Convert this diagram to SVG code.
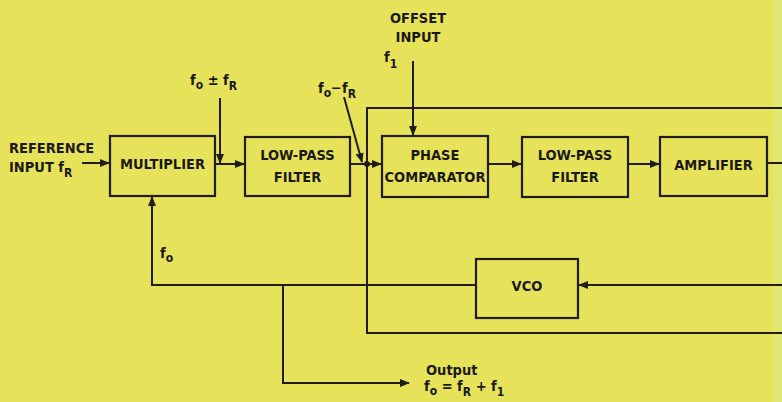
<svg xmlns="http://www.w3.org/2000/svg" width="782" height="402" viewBox="0 0 782 402">
<defs>
<style>
.box{fill:none;stroke:#221d14;stroke-width:2.2}
.ln{fill:none;stroke:#221d14;stroke-width:2}
.t{font-family:'Liberation Sans Narrow','DejaVu Sans Condensed','Liberation Sans',sans-serif;font-weight:bold;font-size:14.5px;fill:#1c1810;text-anchor:middle}
.l{font-family:'Liberation Sans Narrow','DejaVu Sans Condensed','Liberation Sans',sans-serif;font-weight:bold;font-size:14.5px;fill:#1c1810}
.s{font-size:12px}
</style>
<marker id="ah" viewBox="0 0 10 8" refX="9" refY="4" markerWidth="10" markerHeight="8" markerUnits="userSpaceOnUse" orient="auto">
<path d="M0,0 L10,4 L0,8 z" fill="#221d14"/>
</marker>
</defs>
<rect width="782" height="402" fill="#e6e35a"/>
<rect x="773" width="9" height="402" fill="#e0e872"/>

<g id="connectors">
<line class="ln" x1="82" y1="163" x2="109" y2="163" marker-end="url(#ah)"/>
<line class="ln" x1="215" y1="164" x2="244" y2="164" marker-end="url(#ah)"/>
<line class="ln" x1="220" y1="98" x2="220" y2="163" marker-end="url(#ah)"/>
<line class="ln" x1="350" y1="164" x2="381" y2="164" marker-end="url(#ah)"/>
<line class="ln" x1="344" y1="97" x2="362" y2="162" marker-end="url(#ah)"/>
<polyline class="ln" points="782,108 367,108 367,333 782,333"/>
<circle cx="367" cy="164" r="3" fill="#221d14"/>
<line class="ln" x1="413" y1="61" x2="413" y2="135" marker-end="url(#ah)"/>
<line class="ln" x1="488" y1="164" x2="521" y2="164" marker-end="url(#ah)"/>
<line class="ln" x1="628" y1="164" x2="659" y2="164" marker-end="url(#ah)"/>
<line class="ln" x1="767" y1="163" x2="782" y2="163"/>
<line class="ln" x1="782" y1="285" x2="579" y2="285" marker-end="url(#ah)"/>
<polyline class="ln" points="476,285 152,285 152,197" marker-end="url(#ah)"/>
<polyline class="ln" points="283,285 283,383 409,383" marker-end="url(#ah)"/>
</g>

<g id="multiplier">
<rect class="box" x="110" y="136" width="105" height="60"/>
<text class="t" x="162.5" y="169">MULTIPLIER</text>
</g>
<g id="lpf1">
<rect class="box" x="245" y="137" width="105" height="59"/>
<text class="t" x="297.5" y="160">LOW-PASS</text>
<text class="t" x="297.5" y="182">FILTER</text>
</g>
<g id="phase-comparator">
<rect class="box" x="382" y="136" width="106" height="61"/>
<text class="t" x="435" y="160">PHASE</text>
<text class="t" x="435" y="182">COMPARATOR</text>
</g>
<g id="lpf2">
<rect class="box" x="522" y="137" width="106" height="60"/>
<text class="t" x="575" y="160">LOW-PASS</text>
<text class="t" x="575" y="182">FILTER</text>
</g>
<g id="amplifier">
<rect class="box" x="660" y="137" width="107" height="59"/>
<text class="t" x="713.5" y="170">AMPLIFIER</text>
</g>
<g id="vco">
<rect class="box" x="476" y="259" width="102" height="59"/>
<text class="t" x="527" y="291">VCO</text>
</g>

<g id="labels">
<text class="l" x="9" y="153">REFERENCE</text>
<text class="l" x="9" y="172">INPUT f<tspan class="s" dy="5">R</tspan></text>
<text class="l" x="190" y="85">f<tspan class="s" dy="4">o</tspan><tspan dy="-4"> ± f</tspan><tspan class="s" dy="5">R</tspan></text>
<text class="l" x="318" y="93">f<tspan class="s" dy="4">o</tspan><tspan dy="-4">−f</tspan><tspan class="s" dy="5">R</tspan></text>
<text class="t" x="418" y="23">OFFSET</text>
<text class="t" x="418" y="42">INPUT</text>
<text class="l" x="384" y="62">f<tspan class="s" dy="6">1</tspan></text>
<text class="l" x="160" y="258">f<tspan class="s" dy="4">o</tspan></text>
<text class="l" x="426" y="375">Output</text>
<text class="l" x="424" y="391">f<tspan class="s" dy="4">o</tspan><tspan dy="-4"> = f</tspan><tspan class="s" dy="5">R</tspan><tspan dy="-5"> + f</tspan><tspan class="s" dy="5">1</tspan></text>
</g>
</svg>
